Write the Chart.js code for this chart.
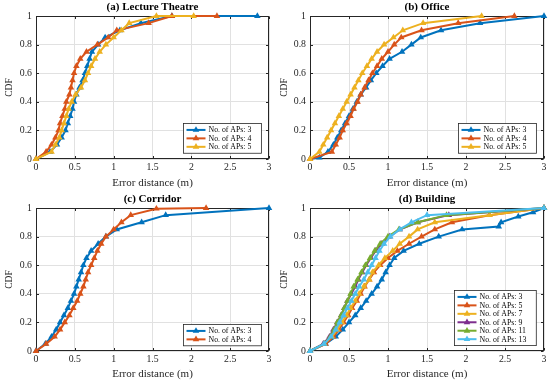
<!DOCTYPE html>
<html><head><meta charset="utf-8">
<script src="https://cdn.jsdelivr.net/npm/chart.js@4"></script>
<style>
html,body{margin:0;padding:0;background:#fff;width:550px;height:383px;overflow:hidden}
canvas{position:absolute;display:block}
</style></head><body>
<canvas id="ca" width="275" height="192" style="left:0;top:0"></canvas>
<canvas id="cb" width="275" height="192" style="left:275px;top:0"></canvas>
<canvas id="cc" width="275" height="191" style="left:0;top:192px"></canvas>
<canvas id="cd" width="275" height="191" style="left:275px;top:192px"></canvas>
<script>
// ---------- data ----------
const xTicks = [0, 0.5, 1, 1.5, 2, 2.5, 3];
const yTicks = [0, 0.2, 0.4, 0.6, 0.8, 1];
const titles = ['(a) Lecture Theatre', '(b) Office', '(c) Corridor', '(d) Building'];
const xLabel = 'Error distance (m)';
const yLabel = 'CDF';

const lectureAPs = [3, 4, 5];
const lectureAP3 = [[0,0],[0.18,0.05],[0.27,0.1],[0.33,0.15],[0.38,0.2],[0.41,0.25],[0.44,0.3],[0.47,0.35],[0.49,0.4],[0.52,0.45],[0.56,0.5],[0.6,0.55],[0.63,0.6],[0.66,0.65],[0.69,0.7],[0.72,0.75],[0.8,0.8],[0.89,0.85],[1.08,0.9],[1.35,0.95],[1.75,1.0],[2.85,1.0]];
const lectureAP4 = [[0,0],[0.13,0.05],[0.2,0.1],[0.25,0.15],[0.29,0.2],[0.31,0.25],[0.34,0.3],[0.37,0.35],[0.39,0.4],[0.43,0.45],[0.45,0.5],[0.47,0.55],[0.49,0.6],[0.52,0.65],[0.57,0.7],[0.65,0.75],[0.79,0.8],[0.93,0.85],[1.04,0.9],[1.45,0.95],[1.75,1.0],[2.33,1.0]];
const lectureAP5 = [[0,0],[0.2,0.05],[0.25,0.1],[0.3,0.15],[0.33,0.2],[0.36,0.25],[0.39,0.3],[0.42,0.35],[0.46,0.4],[0.51,0.45],[0.58,0.5],[0.63,0.55],[0.67,0.6],[0.71,0.65],[0.76,0.7],[0.82,0.75],[0.9,0.8],[1.0,0.85],[1.1,0.9],[1.2,0.95],[1.55,1.0],[2.03,1.0]];

const officeAPs = [3, 4, 5];
const officeAP3 = [[0,0],[0.12,0.01],[0.23,0.05],[0.3,0.1],[0.35,0.15],[0.4,0.2],[0.45,0.25],[0.5,0.3],[0.55,0.35],[0.6,0.4],[0.65,0.45],[0.72,0.5],[0.78,0.55],[0.85,0.6],[0.93,0.65],[1.02,0.7],[1.18,0.75],[1.3,0.8],[1.42,0.85],[1.68,0.9],[2.18,0.95],[3.0,1.0]];
const officeAP4 = [[0,0],[0.28,0.05],[0.33,0.1],[0.38,0.15],[0.42,0.2],[0.47,0.25],[0.52,0.3],[0.56,0.35],[0.61,0.4],[0.65,0.45],[0.7,0.5],[0.75,0.55],[0.8,0.6],[0.86,0.65],[0.92,0.7],[1.0,0.75],[1.08,0.8],[1.17,0.85],[1.43,0.9],[1.9,0.95],[2.62,1.0]];
const officeAP5 = [[0,0],[0.12,0.05],[0.17,0.1],[0.22,0.15],[0.27,0.2],[0.32,0.25],[0.37,0.3],[0.42,0.35],[0.47,0.4],[0.52,0.45],[0.57,0.5],[0.62,0.55],[0.67,0.6],[0.73,0.65],[0.79,0.7],[0.86,0.75],[0.95,0.8],[1.07,0.85],[1.19,0.9],[1.45,0.95],[2.2,1.0]];

const corridorAPs = [3, 4];
const corridorAP3 = [[0,0],[0.12,0.05],[0.2,0.1],[0.26,0.15],[0.31,0.2],[0.36,0.25],[0.41,0.3],[0.45,0.35],[0.49,0.4],[0.52,0.45],[0.55,0.5],[0.58,0.55],[0.61,0.6],[0.65,0.65],[0.71,0.7],[0.8,0.75],[0.9,0.8],[1.04,0.85],[1.36,0.9],[1.67,0.95],[3.0,1.0]];
const corridorAP4 = [[0,0],[0.13,0.05],[0.24,0.1],[0.31,0.15],[0.37,0.2],[0.43,0.25],[0.48,0.3],[0.53,0.35],[0.57,0.4],[0.61,0.45],[0.64,0.5],[0.67,0.55],[0.71,0.6],[0.75,0.65],[0.79,0.7],[0.84,0.75],[0.9,0.8],[1.0,0.85],[1.1,0.9],[1.22,0.95],[1.55,0.995],[2.19,1.0]];

const buildingAPs = [3, 5, 7, 9, 11, 13];
const buildingAP3 = [[0,0],[0.2,0.05],[0.33,0.1],[0.42,0.15],[0.5,0.2],[0.58,0.25],[0.65,0.3],[0.72,0.35],[0.79,0.4],[0.86,0.45],[0.92,0.5],[0.97,0.55],[1.02,0.6],[1.08,0.65],[1.2,0.7],[1.4,0.75],[1.65,0.8],[1.95,0.85],[2.42,0.87],[2.45,0.9],[2.67,0.94],[2.86,0.97],[3.0,1.0]];
const buildingAP5 = [[0,0],[0.2,0.05],[0.3,0.1],[0.37,0.15],[0.43,0.2],[0.49,0.25],[0.54,0.3],[0.6,0.35],[0.65,0.4],[0.7,0.45],[0.76,0.5],[0.82,0.55],[0.9,0.6],[1.0,0.65],[1.12,0.7],[1.27,0.75],[1.43,0.8],[1.6,0.85],[1.82,0.9],[2.3,0.95],[3.0,1.0]];
const buildingAP7 = [[0,0],[0.18,0.05],[0.28,0.1],[0.35,0.15],[0.41,0.2],[0.47,0.25],[0.52,0.3],[0.58,0.35],[0.63,0.4],[0.69,0.45],[0.76,0.5],[0.8,0.55],[0.88,0.6],[0.96,0.65],[1.06,0.7],[1.15,0.75],[1.27,0.8],[1.38,0.85],[1.6,0.9],[2.3,0.95],[3.0,1.0]];
const buildingAP9 = [[0,0],[0.17,0.05],[0.25,0.1],[0.3,0.15],[0.35,0.2],[0.4,0.25],[0.44,0.3],[0.48,0.35],[0.53,0.4],[0.58,0.45],[0.62,0.5],[0.67,0.55],[0.72,0.6],[0.78,0.65],[0.84,0.7],[0.92,0.75],[1.02,0.8],[1.15,0.85],[1.38,0.9],[1.78,0.95],[3.0,1.0]];
const buildingAP11 = [[0,0],[0.18,0.05],[0.26,0.1],[0.31,0.15],[0.35,0.2],[0.4,0.25],[0.44,0.3],[0.48,0.35],[0.52,0.4],[0.56,0.45],[0.61,0.5],[0.66,0.55],[0.71,0.6],[0.77,0.65],[0.83,0.7],[0.9,0.75],[1.0,0.8],[1.14,0.85],[1.38,0.9],[1.75,0.95],[3.0,1.0]];
const buildingAP13 = [[0,0],[0.18,0.05],[0.27,0.1],[0.33,0.15],[0.38,0.2],[0.43,0.25],[0.48,0.3],[0.53,0.35],[0.58,0.4],[0.63,0.45],[0.69,0.5],[0.74,0.55],[0.79,0.6],[0.84,0.65],[0.89,0.7],[0.95,0.75],[1.03,0.8],[1.15,0.85],[1.3,0.9],[1.5,0.95],[3.0,1.0]];

// ---------- styling ----------
const COLORS = ['#0072BD', '#D95319', '#EDB120', '#7E2F8E', '#77AC30', '#4DBEEE'];
const SERIF = "'Liberation Serif','Times New Roman',serif";
const AXIS = '#262626';
const GRID = '#e1e1e1';

const boxPlugin = {
  id: 'matlabBox',
  beforeDatasetsDraw(chart) {
    const {ctx, chartArea: a, scales} = chart;
    ctx.save();
    ctx.strokeStyle = AXIS;
    ctx.lineWidth = 1;
    const L = Math.round(a.left) + 0.5, R = Math.round(a.right) - 0.5;
    const T = Math.round(a.top) + 0.5, B = Math.round(a.bottom) - 0.5;
    ctx.strokeRect(L, T, R - L, B - T);
    const tl = 2.5;
    ctx.beginPath();
    xTicks.forEach(v => {
      const px = Math.round(scales.x.getPixelForValue(v)) + 0.5;
      ctx.moveTo(px, B); ctx.lineTo(px, B - tl);
      ctx.moveTo(px, T); ctx.lineTo(px, T + tl);
    });
    yTicks.forEach(v => {
      const py = Math.round(scales.y.getPixelForValue(v)) + 0.5;
      ctx.moveTo(L, py); ctx.lineTo(L + tl, py);
      ctx.moveTo(R, py); ctx.lineTo(R - tl, py);
    });
    ctx.stroke();
    ctx.restore();
  }
};

const legendPlugin = {
  id: 'insideLegend',
  afterDraw(chart) {
    const {ctx, chartArea: a} = chart;
    const ds = chart.data.datasets;
    ctx.save();
    ctx.font = '7.8px ' + SERIF;
    const tw = Math.max(...ds.map(d => ctx.measureText(d.label).width));
    const rowH = 8.45, lineLen = 19, padL = 3, gap = 3, padR = 10, padV = 2.2;
    const w = padL + lineLen + gap + tw + padR;
    const h = ds.length * rowH + 2 * padV;
    const x = Math.round(a.right - 8 - w) + 0.5, y = Math.round(a.bottom - 6 - h) + 0.5;
    ctx.fillStyle = '#fff';
    ctx.fillRect(x, y, w, h);
    ctx.strokeStyle = AXIS;
    ctx.lineWidth = 0.8;
    ctx.strokeRect(x, y, w, h);
    ds.forEach((d, i) => {
      const cy = y + padV + rowH * (i + 0.5);
      ctx.strokeStyle = d.borderColor;
      ctx.lineWidth = d.borderWidth;
      ctx.beginPath();
      ctx.moveTo(x + padL, cy);
      ctx.lineTo(x + padL + lineLen, cy);
      ctx.stroke();
      ctx.fillStyle = d.backgroundColor;
      Chart.helpers.drawPoint(ctx, {pointStyle: 'triangle', radius: d.pointRadius, borderWidth: 0, rotation: 0}, x + padL + lineLen / 2, cy);
      ctx.fillStyle = '#000';
      ctx.textBaseline = 'middle';
      ctx.textAlign = 'left';
      ctx.fillText(d.label, x + padL + lineLen + gap, cy + 0.5);
    });
    ctx.restore();
  }
};

function makeChart(id, title, seriesList, aps, yAxisW, xAxisH) {
  const n = seriesList.length;
  const datasets = seriesList.map((s, i) => ({
    label: 'No. of APs: ' + aps[i],
    data: s.map(p => ({x: p[0], y: p[1]})),
    borderColor: COLORS[i],
    backgroundColor: COLORS[i],
    showLine: true,
    borderWidth: 2,
    pointStyle: 'triangle',
    pointRadius: 3.8,
    pointHoverRadius: 3.8,
    pointBorderWidth: 0,
    tension: 0,
    order: n - i,
    clip: 8
  }));
  const tickFont = {family: SERIF, size: 9.8};
  return new Chart(document.getElementById(id), {
    type: 'scatter',
    data: {datasets},
    options: {
      responsive: false,
      animation: false,
      events: [],
      layout: {padding: {top: 0, right: 6, left: 0, bottom: 0}},
      plugins: {
        legend: {display: false},
        tooltip: {enabled: false},
        title: {
          display: true, text: title, fullSize: false, color: '#000',
          font: {family: SERIF, size: 11, weight: 'bold'},
          padding: {top: 0.6, bottom: 2.2}
        }
      },
      scales: {
        x: {
          type: 'linear', min: 0, max: 3,
          afterBuildTicks: s => { s.ticks = xTicks.map(v => ({value: v})); },
          afterFit: s => { s.height = xAxisH; },
          ticks: {font: tickFont, color: AXIS, padding: 3, maxRotation: 0, autoSkip: false, callback: v => String(v)},
          grid: {color: GRID, lineWidth: 1, drawTicks: false},
          border: {display: false},
          title: {display: true, text: xLabel, color: AXIS, font: {family: SERIF, size: 11}, padding: {top: 0, bottom: 2.2}}
        },
        y: {
          type: 'linear', min: 0, max: 1,
          afterBuildTicks: s => { s.ticks = yTicks.map(v => ({value: v})); },
          afterFit: s => { s.width = yAxisW; },
          ticks: {font: tickFont, color: AXIS, padding: 4, autoSkip: false, callback: v => String(v)},
          grid: {color: GRID, lineWidth: 1, drawTicks: false},
          border: {display: false},
          title: {display: true, text: yLabel, color: AXIS, font: {family: SERIF, size: 9.5}, padding: {top: 3.3, bottom: 0}}
        }
      }
    },
    plugins: [boxPlugin, legendPlugin]
  });
}

makeChart('ca', titles[0], [lectureAP3, lectureAP4, lectureAP5], lectureAPs, 36, 33);
makeChart('cb', titles[1], [officeAP3, officeAP4, officeAP5], officeAPs, 35, 33);
makeChart('cc', titles[2], [corridorAP3, corridorAP4], corridorAPs, 36, 32);
makeChart('cd', titles[3], [buildingAP3, buildingAP5, buildingAP7, buildingAP9, buildingAP11, buildingAP13], buildingAPs, 35, 32);
</script>
</body></html>
